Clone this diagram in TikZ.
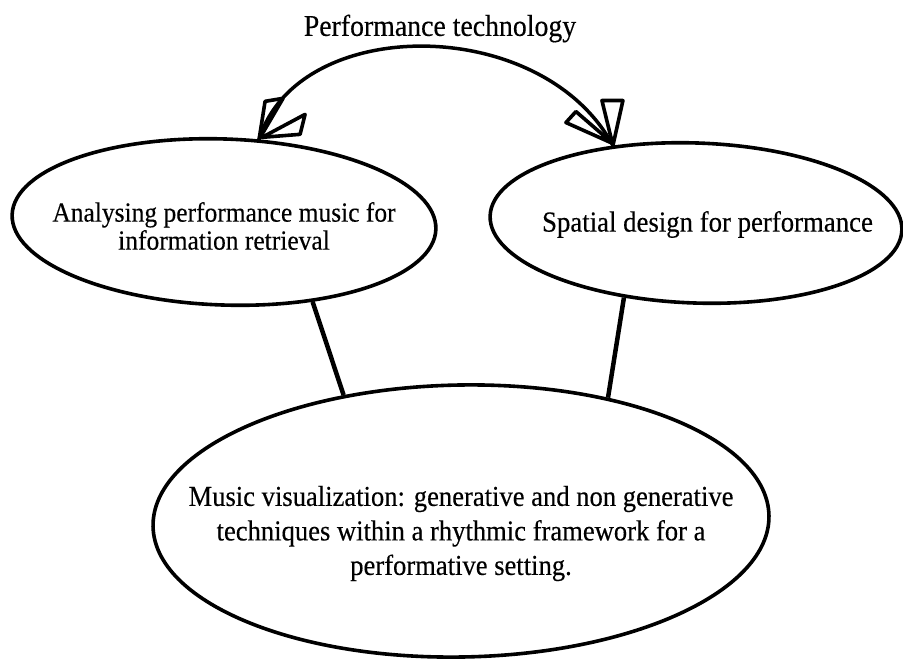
\documentclass[tikz,border=0pt]{standalone}
\usepackage{fontspec}
\setmainfont{Liberation Serif}[FakeStretch=0.92, FakeBold=0.3]
\usetikzlibrary{shapes.geometric}
\begin{document}
\begin{tikzpicture}[x=1pt,y=-1pt,
  bubble/.style={draw=black, line width=3.6pt, ellipse, inner sep=0pt},
  link/.style={draw=black, line width=4.5pt},
  barb/.style={draw=black, line width=3.6pt, line join=round, line cap=round},
  arcline/.style={draw=black, line width=3.5pt, line cap=round},
  caption/.style={inner sep=0pt, align=center, text=black}]
\fill[white] (0,0) rectangle (903,659);
\useasboundingbox (0,0) rectangle (903,659);

% the three topic bubbles
\node[bubble, minimum width=424pt, minimum height=166pt, rotate=-2] (analysis) at (224,222) {};
\node[bubble, minimum width=412pt, minimum height=160pt, rotate=-2] (spatial) at (696,223) {};
\node[bubble, minimum width=616pt, minimum height=272pt, rotate=1] (visual) at (461,521) {};

% texts
\node[caption, font=\fontsize{30.2}{33}\selectfont] (title) at (440,28.5) {Performance technology};
\node[caption, font=\fontsize{27.7}{28}\selectfont] (analysisText) at (224,226)
  {Analysing performance music for\\information retrieval};
\node[caption, font=\fontsize{29.1}{31}\selectfont] (spatialText) at (707.5,224.5)
  {Spatial design for performance};
\node[caption, font=\fontsize{28.9}{34.5}\selectfont] (visualText) at (461,533.5)
  {Music visualization: generative and non generative\\techniques within a rhythmic framework for a\\performative setting.};

% links to the central topic
\draw[link] (analysis.-40.8) -- (visual.132.8);
\draw[link] (spatial.-132) -- (visual.39);

% two-headed arc between the upper bubbles
\draw[arcline] (analysis.69) .. controls (298,14) and (542,14) .. (spatial.139);
\begin{scope}[shift={(analysis.69)}]
  \draw[barb] (0,0) -- (6,-38) -- (24,-41) -- cycle;
  \draw[barb] (3,-2) -- (46,-25) -- (41,-5) -- cycle;
\end{scope}
\begin{scope}[shift={(spatial.139)}]
  \draw[barb] (-47,-23) -- (-37,-34) -- (0,-2) -- cycle;
  \draw[barb] (-11,-45) -- (10,-45) -- (0,0) -- cycle;
\end{scope}
\end{tikzpicture}
\end{document}
